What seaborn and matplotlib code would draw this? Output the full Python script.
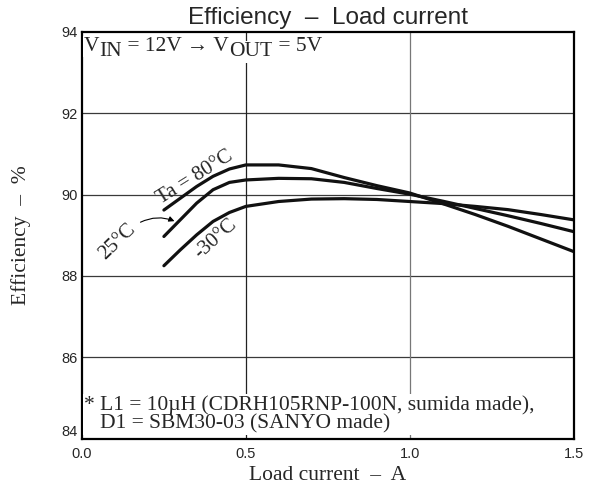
import matplotlib
matplotlib.use('Agg')
import matplotlib.pyplot as plt
import seaborn as sns
import pandas as pd

# load current (A) and efficiency (%)
current = [0.25, 0.30, 0.35, 0.40, 0.45, 0.50, 0.60, 0.70, 0.80, 0.90,
           1.00, 1.10, 1.20, 1.30, 1.40, 1.50]
eff_80 = [89.62, 89.91, 90.20, 90.45, 90.63, 90.73, 90.73, 90.64, 90.42, 90.22,
          90.04, 89.78, 89.51, 89.22, 88.91, 88.60]
eff_25 = [88.97, 89.38, 89.79, 90.12, 90.30, 90.36, 90.40, 90.39, 90.30, 90.15,
          90.01, 89.84, 89.66, 89.48, 89.29, 89.09]
eff_m30 = [88.25, 88.64, 89.01, 89.34, 89.56, 89.71, 89.83, 89.89, 89.90, 89.88,
           89.83, 89.78, 89.71, 89.63, 89.51, 89.38]
temps = ['80°C', '25°C', '-30°C']

x_ticks = [0.0, 0.5, 1.0, 1.5]
y_ticks = [84, 86, 88, 90, 92, 94]

rows = []
for t, vals in zip(temps, [eff_80, eff_25, eff_m30]):
    for c, v in zip(current, vals):
        rows.append({'Load current': c, 'Efficiency': v, 'Ta': t})
df = pd.DataFrame(rows)

sns.set_style('white')
plt.rcParams['font.family'] = ['Liberation Sans', 'DejaVu Sans']
serif = ['Liberation Serif', 'DejaVu Serif']

fig = plt.figure(figsize=(5.89, 4.90), dpi=100)
ax = fig.add_axes([0.1392, 0.1051, 0.8345, 0.8296])

sns.lineplot(data=df, x='Load current', y='Efficiency', hue='Ta',
             palette=['#111111'] * 3, linewidth=2.3, legend=False, ax=ax)

ax.set_xlim(0, 1.5)
ax.set_ylim(84, 94)
ax.set_xticks(x_ticks)
ax.set_xticklabels([f'{v:.1f}' for v in x_ticks], fontsize=10.5)
ax.set_yticks(y_ticks)
ax.set_yticklabels([str(v) for v in y_ticks], fontsize=10.5)
ax.tick_params(length=0)
ax.tick_params(axis='x', pad=6)
ax.tick_params(axis='y', pad=3)
ax.get_yticklabels()[0].set_verticalalignment('bottom')

for y in [86, 88, 90, 92]:
    ax.axhline(y, color='#3a3a3a', lw=0.9, zorder=0)
ax.axvline(0.5, color='#222222', lw=0.9, zorder=0)
ax.axvline(1.0, color='#777777', lw=0.9, zorder=0)

for s in ax.spines.values():
    s.set_color('black')
    s.set_linewidth(1.6)

ax.set_title('Efficiency  –  Load current', fontsize=17.5, pad=6)
ax.set_xlabel('Load current  –  A', family=serif, fontsize=15.5, labelpad=4)
ax.set_ylabel('Efficiency  –  %', family=serif, fontsize=15.5, labelpad=22)

# condition text, subscripts drawn at full size and lowered
box = dict(facecolor='white', edgecolor='none', pad=1.0)
pieces = [('V', 0), ('IN', -4), (' = 12V → V', 0), ('OUT', -4), (' = 5V', 0)]
prev = ax.text(0.006, 93.88, pieces[0][0], family=serif, fontsize=15.5,
               va='top', ha='left', bbox=box, zorder=3)
last_off = 0
for txt, off in pieces[1:]:
    prev = ax.annotate(txt, xy=(1, 0), xycoords=prev, xytext=(0, off - last_off),
                       textcoords='offset points', family=serif, fontsize=15.5,
                       va='bottom', ha='left', bbox=box, zorder=3)
    last_off = off

ax.text(0.006, 84.12, '* L1 = 10µH (CDRH105RNP-100N, sumida made),\n'
        '   D1 = SBM30-03 (SANYO made)',
        family=serif, fontsize=15.5, va='bottom', ha='left', linespacing=0.95,
        bbox=dict(facecolor='white', edgecolor='none', pad=1.0), zorder=3)

ax.text(0.345, 90.43, 'Ta = 80°C', family=serif, fontsize=15, rotation=32,
        ha='center', va='center')
ax.text(0.107, 88.83, '25°C', family=serif, fontsize=15, rotation=44,
        ha='center', va='center')
ax.text(0.409, 88.92, '-30°C', family=serif, fontsize=15, rotation=42,
        ha='center', va='center')
ax.annotate('', xy=(0.29, 89.32), xytext=(0.171, 89.29),
            arrowprops=dict(arrowstyle='-|>', color='black', lw=0.8,
                            connectionstyle='arc3,rad=-0.25', mutation_scale=8))

fig.savefig('out.png', dpi=100)
